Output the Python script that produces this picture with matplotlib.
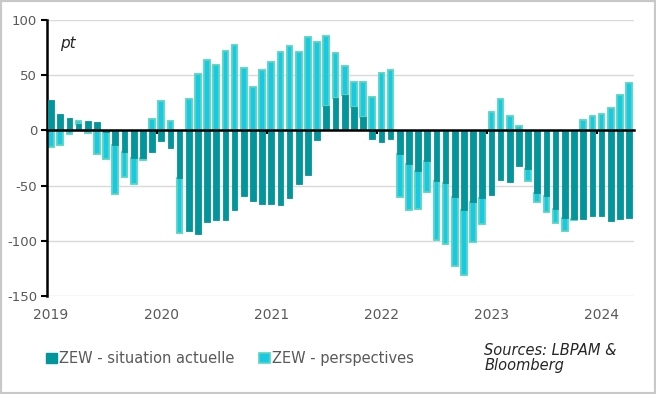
import numpy as np
import matplotlib.pyplot as plt
from matplotlib.patches import Patch, Rectangle

plt.rcParams['axes.unicode_minus'] = False

# ZEW Allemagne, mensuel, janv. 2019 -> avr. 2024
situation = [27.6, 15.0, 11.1, 5.5, 8.2, 7.8, -1.1, -13.5, -19.9, -25.3, -24.7, -19.9,
             -9.5, -15.7, -43.1, -91.5, -93.5, -83.1, -80.9, -81.3, -72.3, -59.5, -64.3, -66.5,
             -66.4, -67.2, -61.0, -48.8, -40.1, -9.1, 21.9, 29.3, 31.9, 21.6, 12.5, -7.4,
             -10.2, -8.1, -21.4, -30.8, -36.5, -27.6, -45.8, -47.6, -60.5, -72.2, -64.5, -61.4,
             -58.6, -45.1, -46.5, -32.5, -34.8, -56.5, -59.5, -71.3, -79.4, -79.9, -79.8, -77.1,
             -77.3, -81.7, -80.5, -79.2]
perspectives = [-15.0, -13.4, -3.6, 3.1, -2.1, -21.1, -24.5, -44.1, -22.5, -22.8, -2.1, 10.7,
                26.7, 8.7, -49.5, 28.2, 51.0, 63.4, 59.3, 71.5, 77.4, 56.1, 39.0, 55.0,
                61.8, 71.2, 76.6, 70.7, 84.4, 79.8, 63.3, 40.4, 26.5, 22.3, 31.7, 29.9,
                51.7, 54.3, -39.3, -41.0, -34.3, -28.0, -53.8, -55.3, -61.9, -59.2, -36.7, -23.3,
                16.9, 28.1, 13.0, 4.1, -10.7, -8.5, -14.7, -12.3, -11.4, -1.1, 9.8, 12.8,
                15.2, 19.9, 31.7, 42.9]
years = ['2019', '2020', '2021', '2022', '2023', '2024']

sit = np.array(situation)
per = np.array(perspectives)
x = np.arange(len(sit))
# empilement type Excel : positif sur positif, negatif sur negatif
bottom = np.where(np.sign(sit) == np.sign(per), sit, 0)

dark = '#00969b'
light_edge = '#55d6c2'
light_fill = '#19c9e3'

fig = plt.figure(figsize=(6.56, 3.94), dpi=100)
ax = fig.add_axes([0.0716, 0.2487, 0.895, 0.7005])

ax.bar(x, per, bottom=bottom, width=0.62, color=light_fill, edgecolor=light_edge,
       linewidth=1.3, zorder=2)
ax.bar(x, sit, width=0.62, color=dark, edgecolor='#0b9297', linewidth=0.6, zorder=3)

ax.set_xlim(-0.45, 63.55)
ax.set_ylim(-150, 100)
ax.set_yticks([-150, -100, -50, 0, 50, 100])
ax.yaxis.grid(True, color='#d9d9d9', linewidth=1)
ax.set_axisbelow(True)

ax.spines['top'].set_visible(False)
ax.spines['right'].set_visible(False)
ax.spines['left'].set_color('black')
ax.spines['left'].set_linewidth(1.8)
ax.spines['bottom'].set_position(('data', 0))
ax.spines['bottom'].set_color('black')
ax.spines['bottom'].set_linewidth(1.8)
ax.spines['bottom'].set_zorder(4)

ax.set_xticks([12 * i - 0.5 for i in range(1, 6)])
ax.tick_params(axis='x', length=3, width=1.5, color='black', labelbottom=False)
ax.tick_params(axis='y', length=4, width=1.5, color='black', labelsize=9.5,
               labelcolor='#595959', pad=3)

for i, yr in enumerate(years):
    ax.text(12 * i, -0.07, yr, transform=ax.get_xaxis_transform(), ha='center', va='center',
            fontsize=10, color='#595959')

ax.text(0.023, 0.9, 'pt', transform=ax.transAxes, fontsize=11, style='italic', color='#262626')

handles = [Patch(facecolor=dark, edgecolor=dark, label='ZEW - situation actuelle'),
           Patch(facecolor=light_fill, edgecolor=light_edge, linewidth=1.2, label='ZEW - perspectives')]
fig.legend(handles=handles, loc='center left', bbox_to_anchor=(0.05, 0.09), ncol=2,
           frameon=False, fontsize=10.5, handlelength=0.75, handleheight=0.75,
           handletextpad=0.15, columnspacing=1.7, labelcolor='#595959')

fig.text(0.738, 0.06, 'Sources: LBPAM &\nBloomberg', fontsize=10.5, style='italic',
         color='#262626', linespacing=1.05)

fig.patches.append(Rectangle((0, 0), 1, 1, transform=fig.transFigure, fill=False,
                             edgecolor='#c8c8c8', linewidth=3, zorder=10))

plt.savefig('out.png', dpi=100)
